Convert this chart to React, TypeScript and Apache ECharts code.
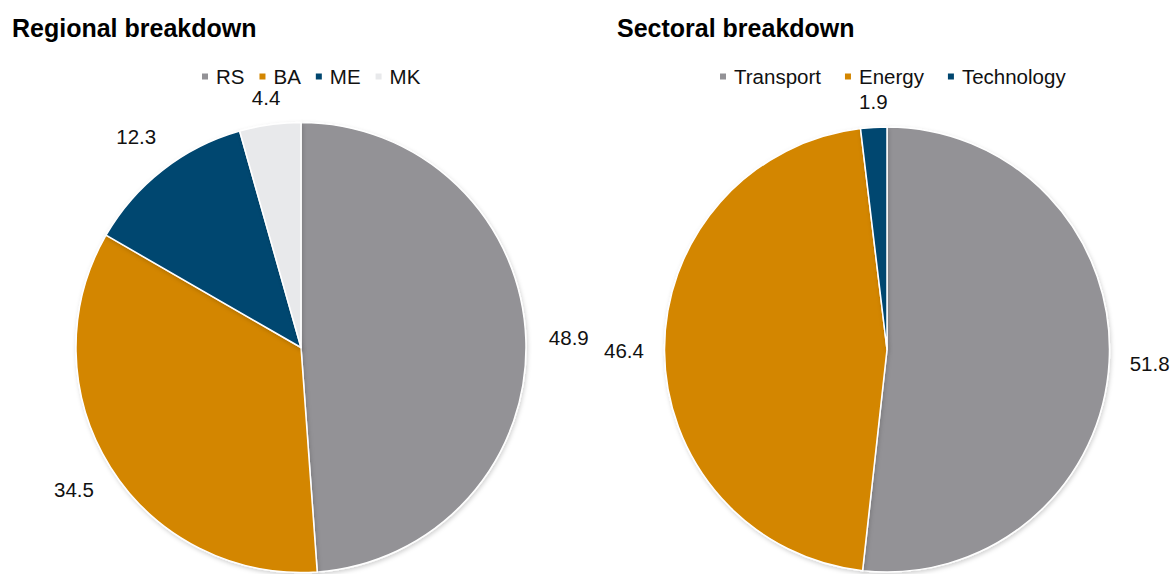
import React, { useEffect, useRef } from "react";
import * as echarts from "echarts";

const regionalCategories = ["RS", "BA", "ME", "MK"];
const regionalValues = [48.9, 34.5, 12.3, 4.4];
const sectoralCategories = ["Transport", "Energy", "Technology"];
const sectoralValues = [51.8, 46.4, 1.9];

const regionalColors = ["#939296", "#D38600", "#00466F", "#E8E9EB"];
const sectoralColors = ["#939296", "#D38600", "#00466F"];

const FONT = "Liberation Sans, Arial, Helvetica, sans-serif";

function pieSeries(
  names: string[],
  values: number[],
  colors: string[],
  center: [number, number],
  r: number,
  labelBand: number
) {
  const visible = {
    type: "pie",
    center,
    radius: r,
    startAngle: 90,
    clockwise: true,
    label: { show: false },
    labelLine: { show: false },
    emphasis: { disabled: true },
    itemStyle: {
      borderColor: "#ffffff",
      borderWidth: 1.5,
      shadowBlur: 4,
      shadowOffsetX: 1,
      shadowOffsetY: 2,
      shadowColor: "rgba(0,0,0,0.18)",
    },
    data: names.map((n, i) => ({
      name: n,
      value: values[i],
      itemStyle: { color: colors[i] },
    })),
  };
  const ring = {
    type: "pie",
    center,
    radius: [r, r + labelBand],
    startAngle: 90,
    clockwise: true,
    silent: true,
    legendHoverLink: false,
    emphasis: { disabled: true },
    itemStyle: { color: "rgba(0,0,0,0)", borderWidth: 0 },
    labelLine: { show: false },
    label: {
      show: true,
      position: "inside",
      formatter: "{c}",
      fontFamily: FONT,
      fontSize: 20.5,
      color: "#111111",
    },
    data: names.map((n, i) => ({
      name: n,
      value: values[i],
      label: values[i] < 5 ? { offset: [2, 15] } : {},
    })),
  };
  return [visible, ring];
}

export default function App() {
  const ref = useRef<HTMLDivElement>(null);
  useEffect(() => {
    document.body.style.margin = "0";
    const chart = echarts.init(ref.current!, null, { renderer: "svg" });
    const legendText = { fontFamily: FONT, fontSize: 20.5, color: "#111111", padding: [0, 0, 0, 2] };
    const titleText = { fontFamily: FONT, fontSize: 25, fontWeight: "bold", color: "#000" };
    chart.setOption({
      animation: false,
      backgroundColor: "#ffffff",
      title: [
        { text: "Regional breakdown", left: 7, top: 10, textStyle: titleText },
        { text: "Sectoral breakdown", left: 612, top: 10, textStyle: titleText },
      ],
      legend: [
        {
          left: 195,
          top: 61,
          icon: "rect",
          itemWidth: 8,
          itemHeight: 8,
          itemGap: 13,
          textStyle: legendText,
          data: regionalCategories.map((n, i) => ({ name: n, itemStyle: { color: regionalColors[i] } })),
        },
        {
          left: 713,
          top: 61,
          icon: "rect",
          itemWidth: 8,
          itemHeight: 8,
          itemGap: 22,
          textStyle: legendText,
          data: sectoralCategories.map((n, i) => ({ name: n, itemStyle: { color: sectoralColors[i] } })),
        },
      ],
      series: [
        ...pieSeries(regionalCategories, regionalValues, regionalColors, [301, 347.5], 225, 80),
        ...pieSeries(sectoralCategories, sectoralValues, sectoralColors, [887, 349.5], 222.5, 75),
      ],
    });
    return () => chart.dispose();
  }, []);
  return (
    <div
      ref={ref}
      style={{ position: "absolute", left: 0, top: 0, width: 1170, height: 574 }}
    />
  );
}
